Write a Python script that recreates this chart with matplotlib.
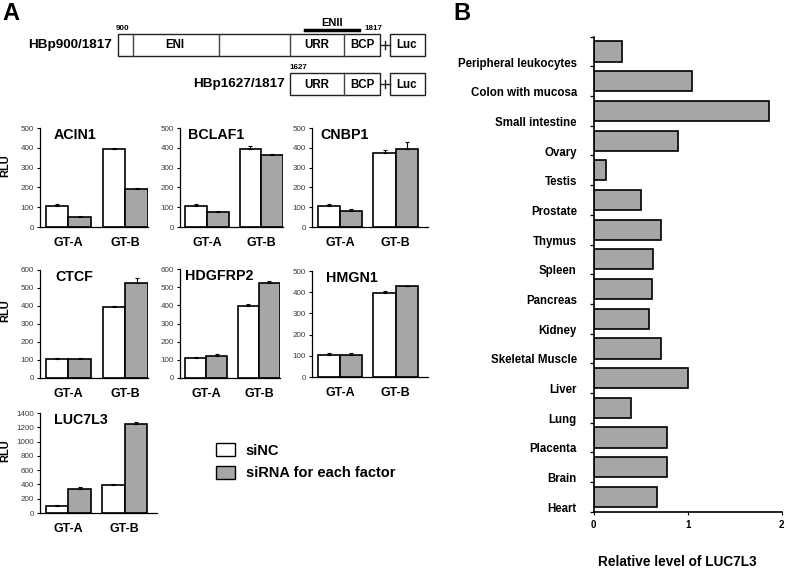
import matplotlib
matplotlib.use('Agg')
import matplotlib.pyplot as plt
import matplotlib.transforms as mtransforms
from matplotlib.patches import Rectangle
import numpy as np

plt.rcParams['font.family'] = ['Liberation Sans', 'DejaVu Sans']
plt.rcParams['font.weight'] = 'bold'

# ---- data: panel A (luciferase reporter, RLU) ----
genes = ['ACIN1', 'BCLAF1', 'CNBP1', 'CTCF', 'HDGFRP2', 'HMGN1', 'LUC7L3']
groups = ['GT-A', 'GT-B']
sinc = [[105, 395], [108, 396], [107, 375], [105, 395], [108, 396], [102, 395], [100, 390]]
sinc_err = [[10, 5], [8, 12], [9, 14], [7, 5], [6, 14], [12, 10], [15, 15]]
sirna = [[52, 193], [75, 362], [83, 395], [105, 530], [120, 522], [106, 427], [340, 1240]]
sirna_err = [[5, 5], [8, 6], [8, 33], [5, 25], [10, 12], [8, 2], [30, 30]]
ymax = [500, 500, 500, 600, 600, 500, 1400]
ystep = [100, 100, 100, 100, 100, 100, 200]

# ---- data: panel B (tissue expression) ----
tissues = ['Peripheral leukocytes', 'Colon with mucosa', 'Small intestine', 'Ovary',
           'Testis', 'Prostate', 'Thymus', 'Spleen', 'Pancreas', 'Kidney',
           'Skeletal Muscle', 'Liver', 'Lung', 'Placenta', 'Brain', 'Heart']
levels = [0.30, 1.05, 1.86, 0.90, 0.13, 0.50, 0.72, 0.63, 0.62, 0.59,
          0.72, 1.00, 0.40, 0.78, 0.78, 0.67]

GRAY = '#a6a6a6'
W, H = 787, 568
fig = plt.figure(figsize=(W / 100, H / 100), dpi=100)
fig.patch.set_facecolor('white')


def px_axes(l, t, r, b, **kw):
    return fig.add_axes([l / W, 1 - b / H, (r - l) / W, (b - t) / H], **kw)


# ---- schematic at the top of panel A ----
diag = px_axes(0, 0, W, H)
diag.set_xlim(0, W)
diag.set_ylim(H, 0)
diag.axis('off')


def box(x0, x1, y0, y1):
    diag.add_patch(Rectangle((x0, y0), x1 - x0, y1 - y0, fill=False, ec='#222222', lw=1.0))


box(118, 380, 33.5, 56)
for xd in [132.5, 218.5, 289.5, 344]:
    diag.plot([xd, xd], [33.5, 56], color='#444444', lw=1.0)
box(390, 424.5, 33.5, 56)
diag.plot([380, 390], [45, 45], color='#222222', lw=1.0)
diag.plot([384.5, 384.5], [41, 49], color='#222222', lw=1.0)
diag.plot([305, 359], [30, 30], color='black', lw=2.5)

box(289.5, 380, 73, 95)
diag.plot([344, 344], [73, 95], color='#444444', lw=1.0)
box(390, 424.5, 73, 95)
diag.plot([380, 390], [84, 84], color='#222222', lw=1.0)
diag.plot([384.5, 384.5], [80, 88], color='#222222', lw=1.0)

diag.text(2, 13, 'A', fontsize=17, ha='left', va='center')
diag.text(112, 45, 'HBp900/1817', fontsize=9.7, ha='right', va='center')
diag.text(285, 84.5, 'HBp1627/1817', fontsize=9.7, ha='right', va='center')
for xt, txt in [(175, 'ENI'), (317, 'URR'), (362, 'BCP'), (407, 'Luc')]:
    diag.text(xt, 45.5, txt, fontsize=8.3, ha='center', va='center')
for xt, txt in [(317, 'URR'), (362, 'BCP'), (407, 'Luc')]:
    diag.text(xt, 84.5, txt, fontsize=8.3, ha='center', va='center')
diag.text(332, 23, 'ENII', fontsize=8, ha='center', va='center')
diag.text(123, 28, '900', fontsize=5.8, ha='center', va='center')
diag.text(373, 28, '1817', fontsize=5.8, ha='center', va='center')
diag.text(298, 67.5, '1627', fontsize=5.8, ha='center', va='center')

# ---- bar panels ----
panel_box = [(40, 128, 148, 227), (180, 128, 283, 227), (312, 128, 428, 227),
             (40, 270, 148, 378), (180, 269, 280, 378), (312, 271, 428, 377),
             (40, 413, 157, 513)]
x_right = [1.4, 1.4, 1.58, 1.4, 1.4, 1.58, 1.57]
title_dx = [14, 8, 8, 15, 5, 14, 14]

x = np.arange(len(groups))
bw = 0.4
for i, g in enumerate(genes):
    l, t, r, b = panel_box[i]
    ax = px_axes(l, t, r, b)
    ax.bar(x - bw / 2, sinc[i], bw, color='white', edgecolor='black', lw=1.2, zorder=2)
    ax.bar(x + bw / 2, sirna[i], bw, color=GRAY, edgecolor='black', lw=1.2, zorder=2)
    ax.errorbar(x - bw / 2, sinc[i], yerr=[np.zeros(2), sinc_err[i]], fmt='none',
                ecolor='black', elinewidth=0.8, capsize=1.5, capthick=0.8, zorder=3)
    ax.errorbar(x + bw / 2, sirna[i], yerr=[np.zeros(2), sirna_err[i]], fmt='none',
                ecolor='black', elinewidth=0.8, capsize=1.5, capthick=0.8, zorder=3)
    ax.set_xlim(-0.5, x_right[i])
    ax.set_ylim(0, ymax[i])
    ax.set_yticks(np.arange(0, ymax[i] + 1, ystep[i]))
    ax.tick_params(axis='y', labelsize=5.8, length=2.5, width=0.8, pad=2,
                   labelcolor='#3a3a3a')
    for lab in ax.get_yticklabels():
        lab.set_fontweight('normal')
    ax.set_xticks(x)
    ax.set_xticklabels(groups, fontsize=9, fontweight='bold')
    ax.tick_params(axis='x', length=0, pad=7)
    for s in ['top', 'right']:
        ax.spines[s].set_visible(False)
    for s in ['left', 'bottom']:
        ax.spines[s].set_linewidth(0.9)
    ax.text(title_dx[i] / (r - l), 1 - 7 / (b - t), g, transform=ax.transAxes,
            fontsize=10.3, fontweight='bold', ha='left', va='center')
    if l == 40:
        ax.set_ylabel('RLU', fontsize=8, fontweight='bold')
        ax.yaxis.set_label_coords(-30 / (r - l), 0.62)

# legend
fig.legend(handles=[Rectangle((0, 0), 1, 1, fc='white', ec='black', lw=1.0),
                    Rectangle((0, 0), 1, 1, fc=GRAY, ec='black', lw=1.0)],
           labels=['siNC', 'siRNA for each factor'],
           loc='upper left', bbox_to_anchor=(216 / W, 1 - 443 / H),
           frameon=False, fontsize=10.5, handlelength=1.32, handleheight=1.0,
           handletextpad=0.72, labelspacing=0.55, borderpad=0, borderaxespad=0)

# ---- panel B ----
axb = px_axes(593.5, 36.7, 781.7, 511.7)
yb = np.arange(len(tissues))
axb.barh(yb, levels, height=0.68, color=GRAY, edgecolor='black', lw=1.2, zorder=2)
axb.set_xlim(0, 2)
axb.set_ylim(len(tissues) - 0.5, -0.5)
axb.set_xticks([0, 1, 2])
axb.tick_params(axis='x', labelsize=7, length=2, pad=4)
axb.set_yticks(yb)
axb.set_yticklabels(tissues, fontsize=8.3, fontweight='bold')
axb.set_yticks(np.arange(-0.5, len(tissues)), minor=True)
axb.tick_params(axis='y', which='major', length=0, pad=12)
axb.tick_params(axis='y', which='minor', length=3, width=0.9)
shift = mtransforms.ScaledTranslation(0, -0.105, fig.dpi_scale_trans)
for lab in axb.get_yticklabels():
    lab.set_transform(lab.get_transform() + shift)
for s in ['top', 'right']:
    axb.spines[s].set_visible(False)
for s in ['left', 'bottom']:
    axb.spines[s].set_linewidth(1.2)
axb.set_xlabel('Relative level of LUC7L3', fontsize=9.8, fontweight='bold')
axb.xaxis.set_label_coords(0.445, -50 / 475, transform=axb.transAxes)
axb.xaxis.label.set_va('center')
fig.text(453 / W, 1 - 13 / H, 'B', fontsize=17, fontweight='bold', ha='left', va='center')

fig.savefig('out.png', dpi=100)
